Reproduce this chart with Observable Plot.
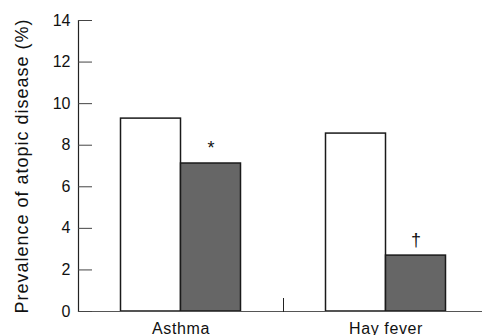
<!DOCTYPE html>
<html><head>
<meta charset="utf-8">
<script src="https://cdn.jsdelivr.net/npm/d3@7"></script>
<script src="https://cdn.jsdelivr.net/npm/@observablehq/plot@0.6"></script>
<style>
body{margin:0;background:#fff}
svg{font-family:"Liberation Sans",Arial,sans-serif}
g[aria-label="y-axis label"] text{font-size:18px;letter-spacing:1px}
g[aria-label="fx-axis tick label"] text{letter-spacing:0.6px}
</style>
</head><body><div id="chart"></div>
<script>
const categories = ["Asthma", "Hay fever"];
const groups = ["Group 1", "Group 2"];
const valuesGroup1 = [9.28, 8.56];
const valuesGroup2 = [7.12, 2.69];
const notesGroup2 = ["*", "†"];
const yTicks = [0, 2, 4, 6, 8, 10, 12, 14];
const yLabel = "Prevalence of atopic disease (%)";

const data = categories.flatMap((c, i) => [
  {cat: c, group: groups[0], value: valuesGroup1[i], note: ""},
  {cat: c, group: groups[1], value: valuesGroup2[i], note: notesGroup2[i]}
]);

const chart = Plot.plot({
  width: 482, height: 335,
  marginLeft: 77.5, marginRight: -5.5, marginTop: 20, marginBottom: 24,
  style: {fontFamily: '"Liberation Sans", Arial, sans-serif', background: "white", color: "#111"},
  facet: {data, x: "cat"},
  fx: {domain: categories, paddingInner: 0, paddingOuter: 0},
  x: {domain: groups, paddingInner: 0, paddingOuter: 0.7083, axis: null},
  y: {domain: [0, 14]},
  color: {domain: groups, range: ["white", "#666666"]},
  marks: [
    Plot.barY(data, {x: "group", y: "value", fill: "group", stroke: "#1a1a1a", strokeWidth: 1.5}),
    Plot.text(data, {x: "group", y: "value", text: "note", dy: -15, fontSize: 18, fill: "#111"}),
    Plot.ruleY([0], {stroke: "#555", strokeWidth: 1.2}),
    Plot.frame({anchor: "left", facet: "super", stroke: "#222", strokeWidth: 1.2}),
    Plot.frame({anchor: "left", insetTop: 278, stroke: "#222", strokeWidth: 1}),
    Plot.axisY({ticks: yTicks, tickSize: -14, tickPadding: 22, fontSize: 16, stroke: "#444",
      label: yLabel, labelAnchor: "center", labelArrow: "none", labelOffset: 63}),
    Plot.axisFx({anchor: "bottom", tickSize: 0, tickPadding: 11, fontSize: 16, label: null})
  ]
});
document.getElementById("chart").append(chart);
</script>
</body></html>
